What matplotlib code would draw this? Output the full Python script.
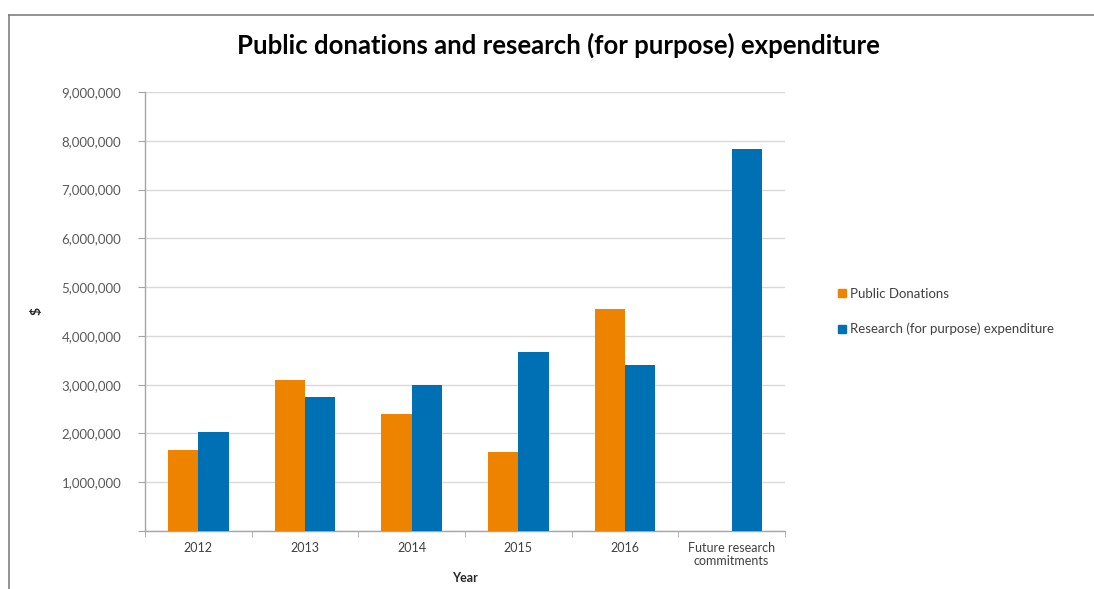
import matplotlib
matplotlib.use("Agg")
import matplotlib.pyplot as plt
import numpy as np
from matplotlib.ticker import FuncFormatter, FixedLocator
from matplotlib.lines import Line2D

categories = ["2012", "2013", "2014", "2015", "2016", "Future research\ncommitments"]
public_donations = [1660000, 3090000, 2400000, 1620000, 4550000, 0]
research_expenditure = [2030000, 2750000, 2990000, 3670000, 3400000, 7830000]
series_names = ["Public Donations", "Research (for purpose) expenditure"]
y_ticks = [0, 1000000, 2000000, 3000000, 4000000, 5000000, 6000000, 7000000, 8000000, 9000000]

FONT = "Lato"
orange = "#EE8300"
blue = "#0070B5"
gray_txt = "#595959"

fig = plt.figure(figsize=(10.94, 5.89), dpi=100)
fig.patch.set_facecolor("white")
ax = fig.add_axes([0.1325, 0.0985, 0.585, 0.7453])

x = np.arange(len(categories))
w = 0.285
ax.bar(x - w / 2, public_donations, width=w, color=orange, label=series_names[0], zorder=3)
ax.bar(x + w / 2, research_expenditure, width=w, color=blue, label=series_names[1], zorder=3)

ax.set_xlim(-0.5, len(categories) - 0.5)
ax.set_ylim(0, 9000000)
ax.set_yticks(y_ticks)
ax.yaxis.set_major_formatter(FuncFormatter(lambda v, p: "" if v == 0 else f"{int(v):,}"))
ax.grid(axis="y", color="#D9D9D9", linewidth=1.0, zorder=0)

ax.set_xticks(x)
ax.set_xticklabels(categories, fontsize=9, color="#404040", family=FONT, linespacing=1.1)
ax.xaxis.set_minor_locator(FixedLocator(np.arange(-0.5, len(categories), 1.0)))
ax.tick_params(axis="x", which="major", length=0, pad=8)
ax.tick_params(axis="x", which="minor", length=4, color="#A6A6A6", direction="out")
ax.tick_params(axis="y", length=5, color="#A6A6A6", direction="out", labelsize=9.5,
               labelcolor=gray_txt, pad=12)
for lab in ax.get_yticklabels():
    lab.set_family(FONT)

for s in ["top", "right"]:
    ax.spines[s].set_visible(False)
for s in ["left", "bottom"]:
    ax.spines[s].set_color("#A6A6A6")
    ax.spines[s].set_linewidth(1.0)

ax.set_xlabel("Year", fontsize=9, fontweight="bold", family=FONT, color="#262626")
ax.xaxis.set_label_coords(0.5, -0.107)
ax.xaxis.label.set_verticalalignment("center")
ax.set_ylabel("$", fontsize=10, fontweight="bold", family=FONT, color="#262626", labelpad=14)

fig.text(0.510, 0.923, "Public donations and research (for purpose) expenditure",
         ha="center", va="center", fontsize=18.5, fontweight="bold", family=FONT, color="black")

handles = [Line2D([], [], marker="s", linestyle="none", markersize=6, color=orange),
           Line2D([], [], marker="s", linestyle="none", markersize=6, color=blue)]
leg = fig.legend(handles, series_names, loc="center left", bbox_to_anchor=(0.755, 0.471),
                 frameon=False, handlelength=0.6, handletextpad=0.3, labelspacing=1.75,
                 prop={"family": FONT, "size": 9.5})
for t in leg.get_texts():
    t.set_color("#404040")

# outer chart border (top and left edges)
fig.add_artist(Line2D([0.008, 1.0], [0.9745, 0.9745], transform=fig.transFigure, color="#7F7F7F", linewidth=1.2))
fig.add_artist(Line2D([0.008, 0.008], [0.0, 0.9745], transform=fig.transFigure, color="#7F7F7F", linewidth=1.2))

fig.savefig("out.png", dpi=100, facecolor="white")
